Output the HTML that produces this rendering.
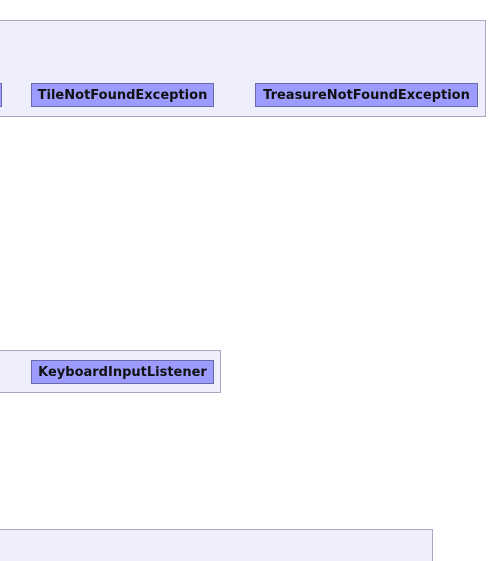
<!DOCTYPE html>
<html style="overflow:hidden;width:488px;height:561px"><head><style>
body{margin:0;width:488px;height:561px;background:#fff;position:relative;overflow:hidden;font-family:"DejaVu Sans","Liberation Sans",sans-serif;}
.p{position:absolute;background:#eeeefc;border:1px solid #a8a8c0;box-sizing:border-box;}
.b{position:absolute;background:#9c9cff;border:1px solid #6a6aaa;box-sizing:border-box;font-weight:bold;font-size:13px;color:#111;text-align:center;line-height:23px;height:24px;}
</style></head><body>
<div class="p" style="left:-5px;top:20px;width:491px;height:97px"></div>
<div class="b" style="left:-10px;top:83px;width:12px"></div>
<div class="b" style="left:31px;top:83px;width:183px">TileNotFoundException</div>
<div class="b" style="left:255px;top:83px;width:223px">TreasureNotFoundException</div>
<div class="p" style="left:-5px;top:350px;width:226px;height:43px"></div>
<div class="b" style="left:31px;top:360px;width:183px">KeyboardInputListener</div>
<div class="p" style="left:-5px;top:529px;width:438px;height:40px"></div>
</body></html>
